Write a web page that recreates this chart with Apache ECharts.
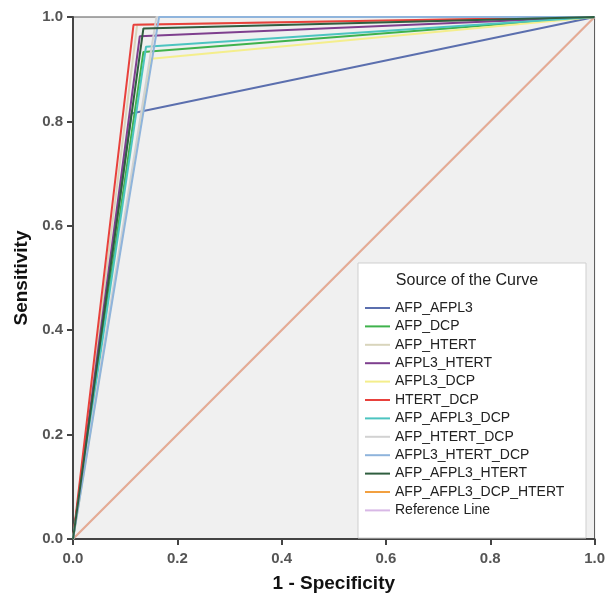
<!DOCTYPE html>
<html>
<head>
<meta charset="utf-8">
<script src="https://cdn.jsdelivr.net/npm/echarts@6/dist/echarts.min.js"></script>
<style>
  html, body { margin: 0; padding: 0; background: #fff; }
  #chart { width: 608px; height: 604px; }
</style>
</head>
<body>
<div id="chart"></div>
<script>
// curve names, as in the legend
var curveNames = ['AFP_AFPL3', 'AFP_DCP', 'AFP_HTERT', 'AFPL3_HTERT', 'AFPL3_DCP', 'HTERT_DCP',
  'AFP_AFPL3_DCP', 'AFP_HTERT_DCP', 'AFPL3_HTERT_DCP', 'AFP_AFPL3_HTERT', 'AFP_AFPL3_DCP_HTERT', 'Reference Line'];
// the single cut point of each curve (1 - specificity, sensitivity)
var cutFpr = [0.112, 0.135, 0.123, 0.128, 0.150, 0.116, 0.140, 0.160, 0.165, 0.135, 0.5, 0.5];
var cutTpr = [0.815, 0.933, 0.985, 0.963, 0.920, 0.985, 0.943, 1.000, 1.000, 0.978, 0.5, 0.5];
var curveColors = ['#5b6fae', '#3fb24c', '#d9d5bc', '#7e3f8e', '#f4ee8c', '#e8413c',
  '#4cc4c0', '#d2d2d2', '#8fb4dc', '#2f5e3f', '#f2a040', '#d8b8e6'];
var tickLabels = ['0.0', '0.2', '0.4', '0.6', '0.8', '1.0'];

var font = 'Arial, "Liberation Sans", sans-serif';

var series = curveNames.map(function (name, i) {
  var isRef = name === 'Reference Line';
  var isOrange = name === 'AFP_AFPL3_DCP_HTERT';
  return {
    name: name,
    type: 'line',
    symbol: 'none',
    animation: false,
    z: isRef ? 1 : (isOrange ? 2 : 3),
    lineStyle: { color: curveColors[i], width: 2, opacity: isOrange ? 0.5 : 1 },
    itemStyle: { color: curveColors[i] },
    data: [[0, 0], [cutFpr[i], cutTpr[i]], [1, 1]]
  };
});

var myChart = echarts.init(document.getElementById('chart'));
var option = {
  backgroundColor: '#fff',
  textStyle: { fontFamily: font },
  grid: {
    left: 73, right: 13, top: 17, bottom: 65,
    show: true, backgroundColor: '#f0f0f0', borderColor: '#555', borderWidth: 1
  },
  xAxis: {
    type: 'value', min: 0, max: 1, interval: 0.2,
    name: '1 - Specificity', nameLocation: 'middle', nameGap: 35,
    nameTextStyle: { fontFamily: font, fontSize: 19, fontWeight: 'bold', color: '#111' },
    axisLine: { lineStyle: { color: '#444', width: 2 } },
    axisTick: { length: 6, lineStyle: { color: '#444', width: 2 } },
    axisLabel: {
      fontFamily: font, fontSize: 15, fontWeight: 'bold', color: '#555', margin: 12,
      formatter: function (v) { return tickLabels[Math.round(v * 5)]; }
    },
    splitLine: { show: false }
  },
  yAxis: {
    type: 'value', min: 0, max: 1, interval: 0.2,
    name: 'Sensitivity', nameLocation: 'middle', nameGap: 41,
    nameTextStyle: { fontFamily: font, fontSize: 19, fontWeight: 'bold', color: '#111' },
    axisLine: { lineStyle: { color: '#444', width: 2 } },
    axisTick: { length: 6, lineStyle: { color: '#444', width: 2 } },
    axisLabel: {
      fontFamily: font, fontSize: 15, fontWeight: 'bold', color: '#555', margin: 10,
      formatter: function (v) { return tickLabels[Math.round(v * 5)]; }
    },
    splitLine: { show: false }
  },
  graphic: [
    {
      type: 'rect', z: 10,
      shape: { x: 358, y: 263, width: 228, height: 275 },
      style: { fill: '#fff', stroke: '#cfcfcf', lineWidth: 1 }
    },
    {
      type: 'text', z: 11, x: 467, y: 281,
      style: {
        text: 'Source of the Curve', fill: '#222', font: '16px ' + font,
        align: 'center', verticalAlign: 'middle'
      }
    }
  ],
  legend: {
    z: 12,
    orient: 'vertical',
    left: 365, top: 300,
    padding: 0,
    icon: 'rect',
    itemWidth: 25, itemHeight: 2, itemGap: 2.4,
    selectedMode: false,
    textStyle: { fontFamily: font, fontSize: 14, color: '#222', lineHeight: 16, padding: [0, 0, 0, 0] },
    data: curveNames
  },
  series: series
};
myChart.setOption(option);
</script>
</body>
</html>
